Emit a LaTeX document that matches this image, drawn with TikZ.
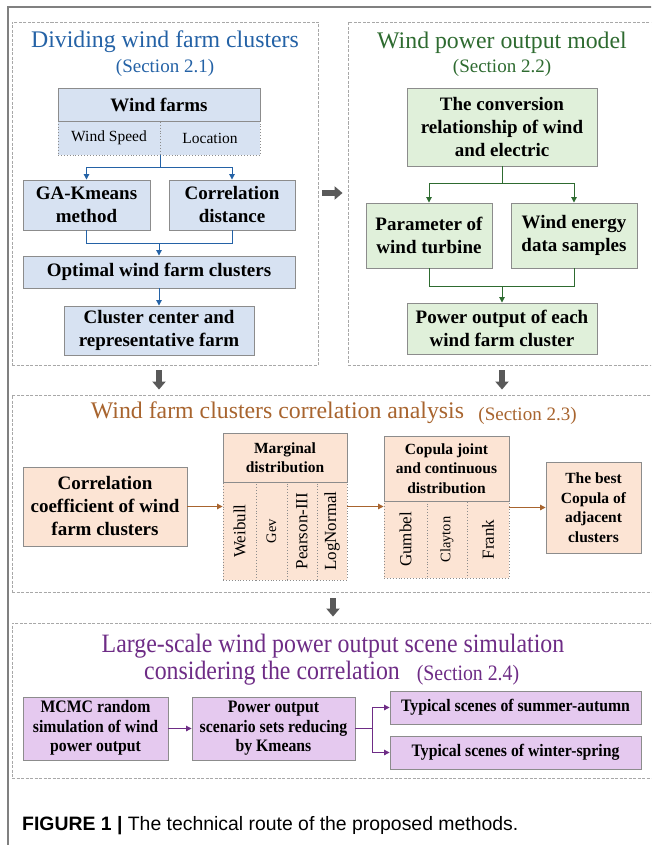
\documentclass[tikz,border=0pt]{standalone}
\usepackage{fontspec}
\setmainfont{Liberation Serif}
\newfontfamily\capfont{Liberation Sans}
\usetikzlibrary{arrows.meta,calc}
\definecolor{boxgray}{HTML}{8C8C8C}
\definecolor{pnlgray}{HTML}{A8A8A8}
\definecolor{framegray}{HTML}{808080}
\definecolor{bigarrow}{HTML}{595959}
\definecolor{bfill}{HTML}{D7E2F2}
\definecolor{gfill}{HTML}{E0F0DA}
\definecolor{ofill}{HTML}{FCE4D4}
\definecolor{pfill}{HTML}{E5C9EF}
\definecolor{tblue}{HTML}{2462A6}
\definecolor{tgreen}{HTML}{2E6B30}
\definecolor{tbrown}{HTML}{A8642E}
\definecolor{tpurple}{HTML}{6E2C86}
\newcommand{\cnd}[1]{\scalebox{0.9}[1]{\begin{tabular}{@{}c@{}}#1\end{tabular}}}
\begin{document}
\begin{tikzpicture}[x=1pt,y=-1pt,
  pnl/.style={draw=pnlgray, dash pattern=on 3pt off 1.5pt, line width=0.9pt, inner sep=0pt},
  bx/.style={draw=boxgray, line width=0.9pt, inner sep=1pt, align=center, text=black,
     font=\fontsize{19}{23}\selectfont\bfseries},
  sbx/.style={bx, font=\fontsize{15.5}{19.5}\selectfont\bfseries},
  cbx/.style={bx, font=\fontsize{17.5}{19.5}\selectfont\bfseries},
  cell/.style={draw=boxgray, dotted, line width=0.9pt, inner sep=0pt, align=center, text=black,
     font=\fontsize{17}{20}\selectfont},
  ttl/.style={inner sep=0pt, font=\fontsize{23.8}{28}\selectfont},
  sec/.style={inner sep=0pt, font=\fontsize{19}{23}\selectfont},
  ln/.style={line width=1pt},
  arr/.style={line width=1pt, -{Triangle[length=5.5pt,width=5.5pt]}},
  bigarr/.style={draw=bigarrow, line width=5.5pt, -{Triangle[length=8pt,width=13pt]}}
]
\useasboundingbox (0,0) rectangle (651,845);
\clip (0,0) rectangle (651,845);
\fill[white] (0,0) rectangle (651,845);

% outer frame
\draw[framegray, line width=1.3pt] (660,7) -- (8,7) -- (8,850);

% panels
\node[pnl, minimum width=306, minimum height=343] (p1) at (165,193.5) {};
\node[pnl, minimum width=312, minimum height=343] (p2) at (504,193.5) {};
\node[pnl, minimum width=648, minimum height=197] (p3) at (336,493.5) {};
\node[pnl, minimum width=648, minimum height=155] (p4) at (336,700.5) {};

% big arrows between panels
\draw[bigarr, shorten <=4pt, shorten >=5pt] (p1.east |- 0,193) -- (p2.west |- 0,193);
\draw[bigarr, shorten <=5pt, shorten >=5pt] ([xshift=-6pt]p1.south) -- ([xshift=-6pt]p1.south |- p3.north);
\draw[bigarr, shorten <=5pt, shorten >=5pt] ([xshift=-2pt]p2.south) -- ([xshift=-2pt]p2.south |- p3.north);
\draw[bigarr, shorten <=6pt, shorten >=6pt] ([xshift=-3pt]p3.south) -- ([xshift=-3pt]p3.south |- p4.north);

% ---------- Panel 1 ----------
\node[ttl, text=tblue] (t1) at (165,42) {Dividing wind farm clusters};
\node[sec, text=tblue] (s1) at (165,68) {(Section 2.1)};
\node[cell, fill=bfill, minimum width=102, minimum height=34, font=\fontsize{15.5}{19}\selectfont] (ws) at (109,138) {Wind Speed};
\node[cell, fill=bfill, minimum width=100, minimum height=34, font=\fontsize{15.5}{19}\selectfont] (lo) at (210,138) {Location};
\node[bx, fill=bfill, minimum width=202, minimum height=33] (wf) at (159,104.5) {Wind farms};
\node[bx, fill=bfill, minimum width=127, minimum height=50] (ga) at (86.5,205) {GA-Kmeans\\method};
\node[bx, fill=bfill, minimum width=126, minimum height=50] (cd) at (232,205) {Correlation\\distance};
\node[bx, fill=bfill, minimum width=272, minimum height=32] (op) at (159,272) {Optimal wind farm clusters};
\node[bx, fill=bfill, minimum width=190, minimum height=49] (cl) at (159,330.5) {Cluster center and\\representative farm};
\begin{scope}[draw=tblue, color=tblue]
\draw[ln] (ws.south east) -- ++(0,12) coordinate (j1);
\draw[arr] (j1) -| (ga.north);
\draw[arr] (j1) -| (cd.north);
\coordinate (j2) at ($(ga.south)+(0,13)$);
\draw[ln] (ga.south) -- (j2) -| (cd.south);
\draw[arr] (j2 -| op.north) -- (op.north);
\draw[arr] (op.south) -- (cl.north);
\end{scope}

% ---------- Panel 2 ----------
\node[ttl, text=tgreen] (t2) at (502,43) {Wind power output model};
\node[sec, text=tgreen] (s2) at (502,68) {(Section 2.2)};
\node[bx, fill=gfill, minimum width=190, minimum height=78] (cv) at (502,127) {The conversion\\relationship of wind\\and electric};
\node[bx, fill=gfill, minimum width=126, minimum height=65] (pa) at (429,235.5) {Parameter of\\wind turbine};
\node[bx, fill=gfill, minimum width=126, minimum height=65] (we) at (574,235.5) {Wind energy\\data samples};
\node[bx, fill=gfill, minimum width=190, minimum height=51] (po1) at (502,328.5) {Power output of each\\wind farm cluster};
\begin{scope}[draw=tgreen, color=tgreen]
\draw[ln] (cv.south) -- ++(0,17) coordinate (j3);
\draw[arr] (j3) -| (pa.north);
\draw[arr] (j3) -| (we.north);
\coordinate (j4) at ($(pa.south)+(0,18)$);
\draw[ln] (pa.south) -- (j4) -| (we.south);
\draw[arr] (j4 -| po1.north) -- (po1.north);
\end{scope}

% ---------- Panel 3 ----------
\node[ttl, text=tbrown] (t3) at (277.5,413) {Wind farm clusters correlation analysis};
\node[sec, text=tbrown] (s3) at (527.5,416) {(Section 2.3)};
\node[bx, fill=ofill, minimum width=164, minimum height=79] (cf) at (105,506.5) {Correlation\\coefficient of wind\\farm clusters};
\node[cell, fill=ofill, minimum width=33, minimum height=98] (mw) at (239.5,531) {\rotatebox{90}{Weibull}};
\node[cell, fill=ofill, minimum width=31, minimum height=98, font=\fontsize{14.5}{18}\selectfont] (mg) at (271.5,531) {\rotatebox{90}{Gev}};
\node[cell, fill=ofill, minimum width=30, minimum height=98] (mp) at (302,531) {\rotatebox{90}{Pearson-III}};
\node[cell, fill=ofill, minimum width=30, minimum height=98] (ml) at (332,531) {\rotatebox{90}{LogNormal}};
\node[sbx, fill=ofill, minimum width=124, minimum height=49] (mh) at (285,457.5) {Marginal\\distribution};
\node[cell, fill=ofill, minimum width=43, minimum height=77] (cg) at (405.5,539.5) {\rotatebox{90}{Gumbel}};
\node[cell, fill=ofill, minimum width=40, minimum height=77, font=\fontsize{14.5}{18}\selectfont] (cc) at (447,539.5) {\rotatebox{90}{Clayton}};
\node[cell, fill=ofill, minimum width=42, minimum height=77] (cfr) at (488,539.5) {\rotatebox{90}{Frank}};
\node[sbx, fill=ofill, minimum width=125, minimum height=65] (ch) at (446.5,468.5) {Copula joint\\and continuous\\distribution};
\node[sbx, fill=ofill, minimum width=95, minimum height=91] (bc) at (593.5,507.5) {The best\\Copula of\\adjacent\\clusters};
\begin{scope}[draw=tbrown, color=tbrown]
\draw[arr] (cf.east) -- (cf.east -| mw.west);
\draw[arr] (cf.east -| ml.east) -- (cf.east -| cg.west);
\draw[arr] (bc.west -| cfr.east) -- (bc.west);
\end{scope}

% ---------- Panel 4 ----------
\node[ttl, text=tpurple, font=\fontsize{26.5}{30}\selectfont] (t4) at (333,646) {\scalebox{0.9}[1]{Large-scale wind power output scene simulation}};
\node[ttl, text=tpurple, font=\fontsize{26.5}{30}\selectfont] (t4b) at (272,673) {\scalebox{0.9}[1]{considering the correlation}};
\node[sec, text=tpurple, font=\fontsize{22}{26}\selectfont] (s4) at (468,675) {\scalebox{0.9}[1]{(Section 2.4)}};
\node[cbx, fill=pfill, minimum width=145, minimum height=63] (mc) at (95.5,728.5) {\cnd{MCMC random\\simulation of wind\\power output}};
\node[cbx, fill=pfill, minimum width=163, minimum height=63] (ps) at (273.5,728.5) {\cnd{Power output\\scenario sets reducing\\by Kmeans}};
\node[cbx, fill=pfill, minimum width=251, minimum height=33] (sa) at (515.5,707.5) {\cnd{Typical scenes of summer-autumn}};
\node[cbx, fill=pfill, minimum width=251, minimum height=33] (wsp) at (515.5,752.5) {\cnd{Typical scenes of winter-spring}};
\begin{scope}[draw=tpurple, color=tpurple]
\draw[arr] (mc.east) -- (ps.west);
\draw[ln] (ps.east) -- ++(17,0) coordinate (j5);
\draw[arr] (j5) |- (sa.west);
\draw[arr] (j5) |- (wsp.west);
\end{scope}

% caption
\node[anchor=west, inner sep=0pt, font=\capfont\fontsize{19.4}{23}\selectfont] (cap) at (22,826) {\textbf{FIGURE 1 |} The technical route of the proposed methods.};
\end{tikzpicture}
\end{document}
